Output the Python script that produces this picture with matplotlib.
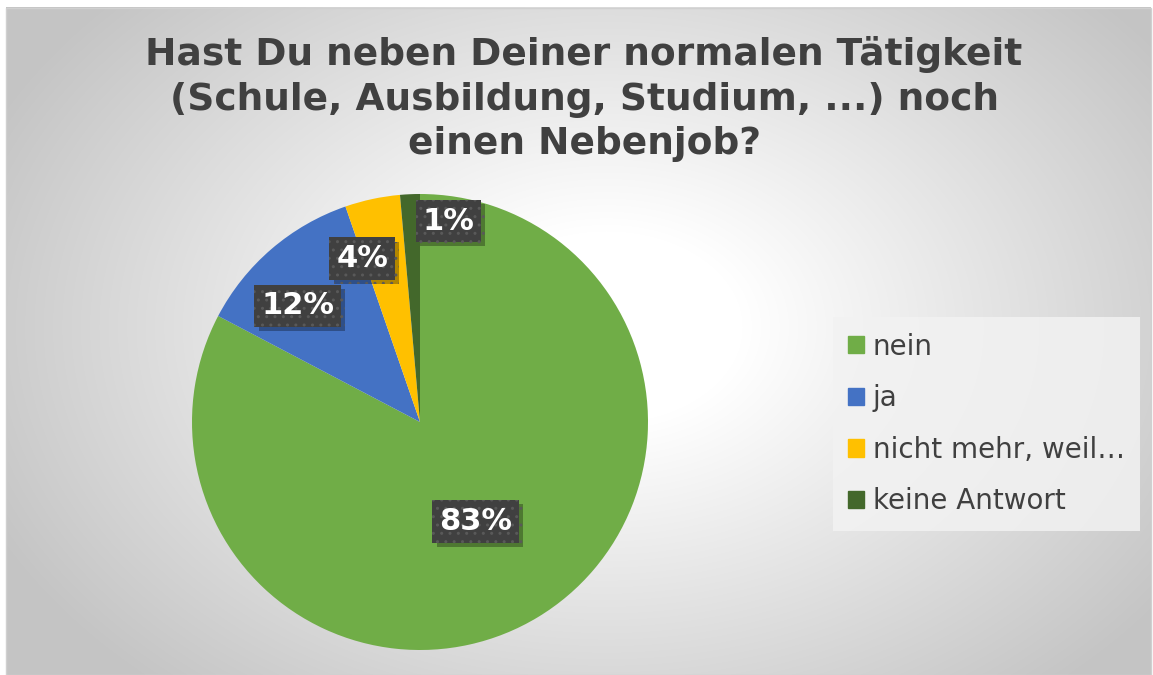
import numpy as np
import matplotlib
matplotlib.use("Agg")
import matplotlib.pyplot as plt
import matplotlib.patches as mpatches
import matplotlib.patheffects as pe

# data
categories = ["nein", "ja", "nicht mehr, weil…", "keine Antwort"]
shares = [82.7, 12.0, 3.9, 1.4]
pct_labels = ["83%", "12%", "4%", "1%"]
colors = ["#70AD47", "#4472C4", "#FFC000", "#43682B"]
title = "Hast Du neben Deiner normalen Tätigkeit\n(Schule, Ausbildung, Studium, ...) noch\neinen Nebenjob?"

W, H = 1153, 675
fig = plt.figure(figsize=(W / 100, H / 100), dpi=100)
fig.patch.set_facecolor("white")

# background: radial gradient panel, white middle -> grey edges
bg = fig.add_axes([6 / W, 0, (W - 8) / W, (H - 7) / H])
yy, xx = np.mgrid[0:H - 7, 0:W - 8]
cx, cy = 600, 320
d = np.sqrt(((xx - cx) / 680.0) ** 2 + ((yy - cy) / 480.0) ** 2)
g = np.clip((d - 0.2) / 0.8, 0, 1)
shade = 1.0 - 0.23 * g
bg.imshow(np.dstack([shade] * 3), aspect="auto", interpolation="bilinear")
bg.set_axis_off()
fig.patches.append(mpatches.Rectangle((6 / W, 0), (W - 8) / W, (H - 7.5) / H,
                                      transform=fig.transFigure, fill=False,
                                      edgecolor="#D0D0D0", lw=1.0))

fig.text(584 / W, 1 - 99 / H, title, ha="center", va="center",
         fontsize=27, fontweight="bold", color="#404040", linespacing=1.3)

# pie axes: centre (420, 422) px, radius 228 px
cxp, cyp, r = 420, 422, 228
ax = fig.add_axes([(cxp - r) / W, (H - cyp - r) / H, 2 * r / W, 2 * r / H])
wedges, _ = ax.pie(shares, colors=colors, startangle=90, counterclock=False,
                   radius=1.0, wedgeprops=dict(linewidth=0))
ax.set_xlim(-1, 1)
ax.set_ylim(-1, 1)
ax.set_aspect("equal")
ax.set_axis_off()

# label anchors (radius, angle deg) picked to sit like the original
label_pos = [(0.50, -60.8), (0.74, 136.5), (0.76, 109.5), (0.89, 82.0)]
for (rr, ang), txt in zip(label_pos, pct_labels):
    x = rr * np.cos(np.radians(ang))
    y = rr * np.sin(np.radians(ang))
    t = ax.text(x, y, txt, ha="center", va="center", fontsize=22,
                fontweight="bold", color="white",
                bbox=dict(boxstyle="square,pad=0.22", facecolor="#404040",
                          edgecolor="#595959", linewidth=0, hatch=".."),
                zorder=5)
    t.get_bbox_patch().set_path_effects([
        pe.SimplePatchShadow(offset=(3, -3), shadow_rgbFace="black", alpha=0.3),
        pe.Normal()])

# legend
handles = [mpatches.Patch(color=c, label=l) for c, l in zip(colors, categories)]
leg = fig.legend(handles=handles, loc="center left",
                 bbox_to_anchor=(833 / W, 1 - 424 / H), borderaxespad=0,
                 frameon=True, fontsize=20, handlelength=0.58,
                 handleheight=0.58, handletextpad=0.3, labelspacing=0.85,
                 borderpad=0.55, fancybox=False, labelcolor="#404040")
leg.get_frame().set_facecolor("#F2F2F2")
leg.get_frame().set_edgecolor("none")
leg.get_frame().set_alpha(0.85)

fig.savefig("out.png", dpi=100)
